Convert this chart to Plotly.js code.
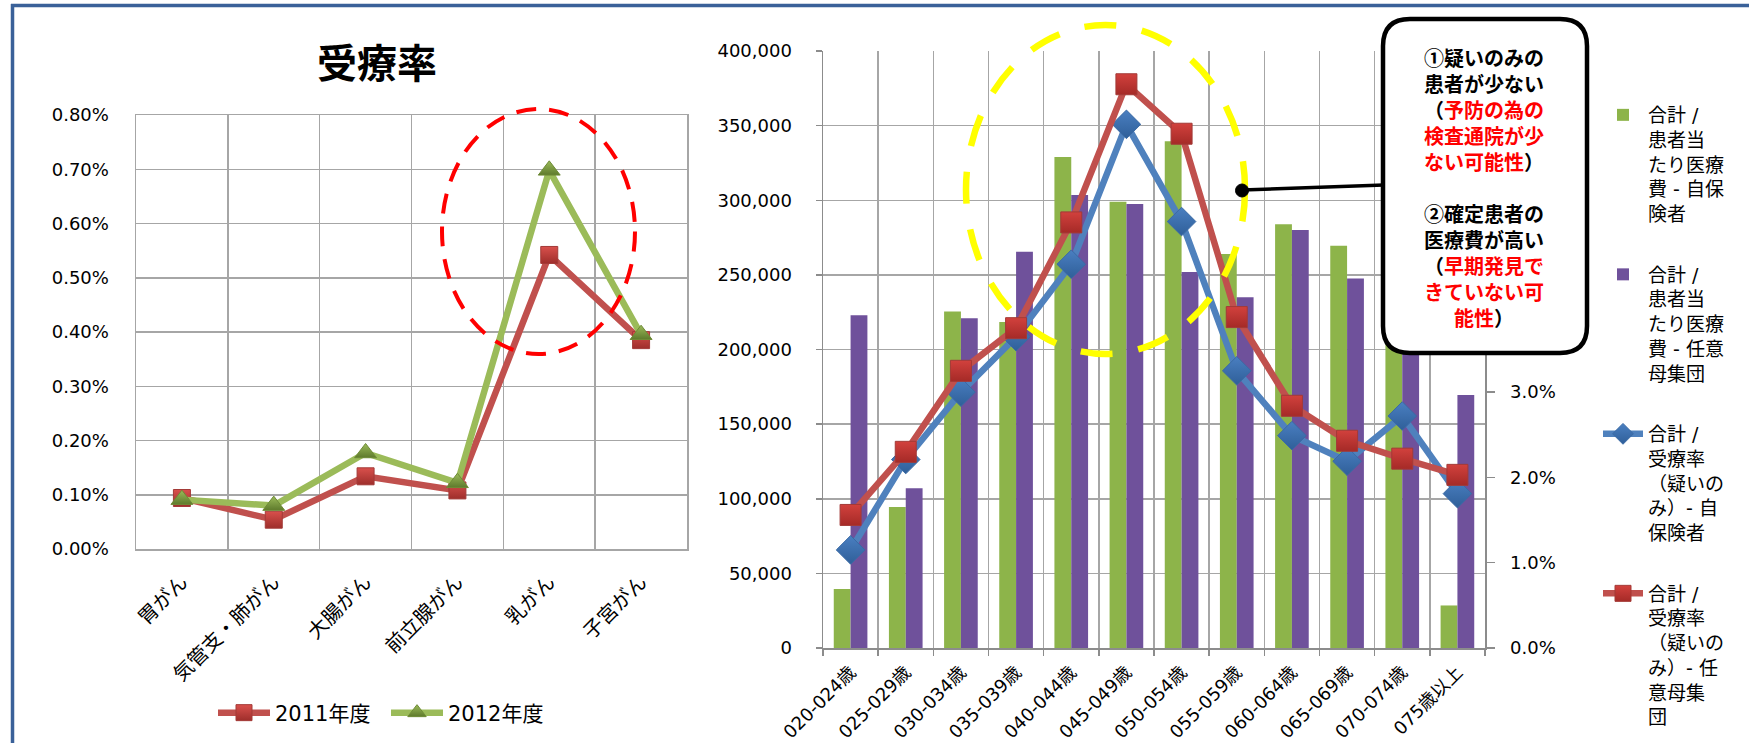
<!DOCTYPE html>
<html>
<head>
<meta charset="utf-8">
<script src="https://cdn.plot.ly/plotly-3.0.1.min.js"></script>
<style>
  html, body { margin: 0; padding: 0; background: #ffffff; }
  #chart { width: 1749px; height: 743px; }
</style>
</head>
<body>
<div id="chart"></div>
<script>
// ---------- Left chart data: 受療率 ----------
const cancerTypes = ['胃がん', '気管支・肺がん', '大腸がん', '前立腺がん', '乳がん', '子宮がん'];
const rate2011 = [0.00094, 0.00054, 0.00134, 0.00108, 0.00542, 0.00385];
const rate2012 = [0.00091, 0.00080, 0.00177, 0.00122, 0.00698, 0.00395];
const legend2011 = '2011年度';
const legend2012 = '2012年度';
const leftTitle = '受療率';

// ---------- Right chart data ----------
const ageGroups = ['020-024歳', '025-029歳', '030-034歳', '035-039歳', '040-044歳', '045-049歳',
                   '050-054歳', '055-059歳', '060-064歳', '065-069歳', '070-074歳', '075歳以上'];
const costSelf = [39500, 94500, 225500, 218500, 329000, 299000, 339500, 264000, 284000, 269500, 230000, 28500];
const costVoluntary = [223000, 107000, 221000, 265500, 303500, 297500, 252000, 235000, 280000, 247500, 220000, 169500];
const rateSelf = [0.0115, 0.0221, 0.0300, 0.0365, 0.0450, 0.0614, 0.0500, 0.0325, 0.0249, 0.0219, 0.0272, 0.0181];
const rateVoluntary = [0.0156, 0.0230, 0.0325, 0.0375, 0.0499, 0.0661, 0.0603, 0.0388, 0.0284, 0.0243, 0.0222, 0.0203];
const rateTickVals = [0, 0.01, 0.02, 0.03];
const nameCostSelf = '合計 /<br>患者当<br>たり医療<br>費 - 自保<br>険者';
const nameCostVol = '合計 /<br>患者当<br>たり医療<br>費 - 任意<br>母集団';
const nameRateSelf = '合計 /<br>受療率<br>（疑いの<br>み）- 自<br>保険者';
const nameRateVol = '合計 /<br>受療率<br>（疑いの<br>み）- 任<br>意母集<br>団';

// ---------- Callout text ----------
const RED = '#FF0000';
const calloutLines = [
  '①疑いのみの',
  '患者が少ない',
  '（<span style="color:' + RED + '">予防の為の</span>',
  '<span style="color:' + RED + '">検査通院が少</span>',
  '<span style="color:' + RED + '">ない可能性</span>）',
  ' ',
  '②確定患者の',
  '医療費が高い',
  '（<span style="color:' + RED + '">早期発見で</span>',
  '<span style="color:' + RED + '">きていない可</span>',
  '<span style="color:' + RED + '">能性</span>）'
];

// ---------- Layout helpers ----------
const W = 1749, H = 743;
const PX = x => x / W;
const PY = y => 1 - y / H;
const FONT = 'DejaVu Sans, "Noto Sans CJK JP", sans-serif';
const GRID = '#A6A6A6';
const AXLINE = '#8C8C8C';

function roundRectPath(x0, y0, x1, y1, r) {
  const p = (x, y) => PX(x).toFixed(5) + ',' + PY(y).toFixed(5);
  return 'M' + p(x0 + r, y0) + ' L' + p(x1 - r, y0) + ' Q' + p(x1, y0) + ' ' + p(x1, y0 + r) +
         ' L' + p(x1, y1 - r) + ' Q' + p(x1, y1) + ' ' + p(x1 - r, y1) +
         ' L' + p(x0 + r, y1) + ' Q' + p(x0, y1) + ' ' + p(x0, y1 - r) +
         ' L' + p(x0, y0 + r) + ' Q' + p(x0, y0) + ' ' + p(x0 + r, y0) + ' Z';
}

const traces = [
  // Left chart
  {
    type: 'scatter', mode: 'lines+markers', x: cancerTypes, y: rate2011, name: legend2011,
    xaxis: 'x', yaxis: 'y', legend: 'legend2',
    line: { color: '#C0504D', width: 6.5 },
    marker: { symbol: 'square', size: 17, color: '#D9504C',
              gradient: { type: 'vertical', color: '#9E2E2B' },
              line: { color: '#A33A37', width: 1 } }
  },
  {
    type: 'scatter', mode: 'lines+markers', x: cancerTypes, y: rate2012, name: legend2012,
    xaxis: 'x', yaxis: 'y', legend: 'legend2',
    line: { color: '#9BBB59', width: 6.5 },
    marker: { symbol: 'triangle-up', size: 19, color: '#9BBB59',
              gradient: { type: 'vertical', color: '#5E7A2C' },
              line: { color: '#6E8B36', width: 1 } }
  },
  // Right chart bars
  {
    type: 'bar', x: ageGroups, y: costSelf, name: nameCostSelf,
    xaxis: 'x2', yaxis: 'y2', legendgroup: 'g1',
    marker: { color: '#8DB44A' }
  },
  {
    type: 'bar', x: ageGroups, y: costVoluntary, name: nameCostVol,
    xaxis: 'x2', yaxis: 'y2', legendgroup: 'g2',
    marker: { color: '#6F519B' }
  },
  // Right chart lines (secondary axis)
  {
    type: 'scatter', mode: 'lines+markers', x: ageGroups, y: rateSelf, name: nameRateSelf,
    xaxis: 'x2', yaxis: 'y3', legendgroup: 'g3',
    line: { color: '#4F81BD', width: 6.5 },
    marker: { symbol: 'diamond', size: 22, color: '#4A7FC1',
              gradient: { type: 'vertical', color: '#2F5F99' },
              line: { color: '#3A6AA5', width: 1 } }
  },
  {
    type: 'scatter', mode: 'lines+markers', x: ageGroups, y: rateVoluntary, name: nameRateVol,
    xaxis: 'x2', yaxis: 'y3', legendgroup: 'g4',
    line: { color: '#C0504D', width: 6.5 },
    marker: { symbol: 'square', size: 21, color: '#D2413D',
              gradient: { type: 'vertical', color: '#A52A27' },
              line: { color: '#A33A37', width: 1 } }
  }
];

const tickFont = { family: FONT, size: 18, color: '#000000' };

const layout = {
  width: W, height: H,
  margin: { l: 0, r: 0, t: 0, b: 0 },
  paper_bgcolor: '#FFFFFF', plot_bgcolor: '#FFFFFF',
  font: { family: FONT, color: '#000000' },
  showlegend: true,
  barmode: 'group', bargap: 0.39, bargroupgap: 0,
  title: {
    text: '<b>' + leftTitle + '</b>',
    font: { family: FONT, size: 40, color: '#000000' },
    x: PX(377), xref: 'paper', xanchor: 'center',
    y: PY(64), yref: 'paper', yanchor: 'middle'
  },
  xaxis: {
    domain: [PX(136), PX(687)], anchor: 'y',
    type: 'category', tickson: 'boundaries',
    showgrid: true, gridcolor: GRID, gridwidth: 1.5,
    showline: true, linecolor: GRID, linewidth: 1.5, mirror: true,
    ticks: '', tickangle: -45, tickfont: { family: FONT, size: 20, color: '#000' },
    ticklabelstandoff: 12, range: [-0.5, 5.5], fixedrange: true
  },
  yaxis: {
    domain: [PY(549), PY(115)], anchor: 'x',
    range: [0, 0.008], dtick: 0.001, tickformat: '.2%',
    showgrid: true, gridcolor: GRID, gridwidth: 1.5, zeroline: false,
    showline: true, linecolor: GRID, linewidth: 1.5, mirror: true,
    ticks: '', tickfont: tickFont, ticklabelstandoff: 22, fixedrange: true
  },
  xaxis2: {
    domain: [PX(823), PX(1485)], anchor: 'y2',
    type: 'category', tickson: 'boundaries',
    showgrid: true, gridcolor: GRID, gridwidth: 1.5,
    showline: true, linecolor: AXLINE, linewidth: 1.5,
    ticks: 'outside', ticklen: 6, tickcolor: AXLINE, tickwidth: 1.5,
    tickangle: -45, tickfont: tickFont, ticklabelstandoff: 5,
    range: [-0.5, 11.5], fixedrange: true
  },
  yaxis2: {
    domain: [PY(648), PY(51)], anchor: 'x2',
    range: [0, 400000], dtick: 50000, tickformat: ',d',
    showgrid: true, gridcolor: GRID, gridwidth: 1.5, zeroline: false,
    showline: true, linecolor: AXLINE, linewidth: 1.5,
    ticks: 'outside', ticklen: 6, tickcolor: AXLINE, tickwidth: 1.5,
    tickfont: tickFont, ticklabelstandoff: 20, fixedrange: true
  },
  yaxis3: {
    anchor: 'x2', overlaying: 'y2', side: 'right',
    range: [0, 0.07], tickmode: 'array', tickvals: rateTickVals, tickformat: '.1%',
    showgrid: false, zeroline: false,
    showline: true, linecolor: AXLINE, linewidth: 1.5,
    ticks: 'outside', ticklen: 8, tickcolor: AXLINE, tickwidth: 1.5,
    tickfont: tickFont, ticklabelstandoff: 12, fixedrange: true
  },
  legend: {
    x: PX(1598), xanchor: 'left', y: PY(96), yanchor: 'top',
    font: { family: FONT, size: 19, color: '#000000' },
    valign: 'top', tracegroupgap: 33, itemwidth: 40,
    bgcolor: 'rgba(0,0,0,0)', traceorder: 'grouped'
  },
  legend2: {
    orientation: 'h', x: PX(213), xanchor: 'left', y: PY(713), yanchor: 'middle',
    font: { family: FONT, size: 21, color: '#000000' },
    itemwidth: 52, entrywidth: 106, entrywidthmode: 'pixels', bgcolor: 'rgba(0,0,0,0)'
  },
  shapes: [
    // figure frame (top and left)
    { type: 'line', xref: 'paper', yref: 'paper', x0: PX(11), x1: 1, y0: PY(5.5), y1: PY(5.5),
      line: { color: '#3A6199', width: 3.5 }, layer: 'above' },
    { type: 'line', xref: 'paper', yref: 'paper', x0: PX(12.5), x1: PX(12.5), y0: PY(4), y1: 0,
      line: { color: '#3A6199', width: 3.5 }, layer: 'above' },
    // red dashed highlight ellipse
    { type: 'circle', xref: 'paper', yref: 'paper', x0: PX(442), x1: PX(635), y0: PY(109), y1: PY(354),
      line: { color: '#FF0000', width: 4, dash: '20px,13px' }, fillcolor: 'rgba(0,0,0,0)', layer: 'above' },
    // yellow dashed highlight ellipse
    { type: 'circle', xref: 'paper', yref: 'paper', x0: PX(966), x1: PX(1245), y0: PY(25), y1: PY(354),
      line: { color: '#FFFF00', width: 6.5, dash: '32px,26px' }, fillcolor: 'rgba(0,0,0,0)', layer: 'above' },
    // connector
    { type: 'line', xref: 'paper', yref: 'paper', x0: PX(1242), x1: PX(1384), y0: PY(190), y1: PY(185),
      line: { color: '#000000', width: 3.5 }, layer: 'above' },
    { type: 'circle', xref: 'paper', yref: 'paper', x0: PX(1235.5), x1: PX(1248.5), y0: PY(184), y1: PY(197),
      line: { color: '#000000', width: 1 }, fillcolor: '#000000', layer: 'above' },
    // callout box
    { type: 'path', xref: 'paper', yref: 'paper', path: roundRectPath(1383, 19, 1587, 353, 27),
      line: { color: '#000000', width: 4.5 }, fillcolor: '#FFFFFF', layer: 'above' }
  ],
  annotations: [
    { xref: 'paper', yref: 'paper', x: PX(1484), y: PY(187), xanchor: 'center', yanchor: 'middle',
      text: '<b>' + calloutLines.join('<br>') + '</b>', showarrow: false, align: 'center',
      font: { family: '"Noto Sans CJK JP", sans-serif', size: 20, color: '#000000' } }
  ]
};

Plotly.newPlot('chart', traces, layout, { staticPlot: true, displayModeBar: false });
</script>
</body>
</html>
